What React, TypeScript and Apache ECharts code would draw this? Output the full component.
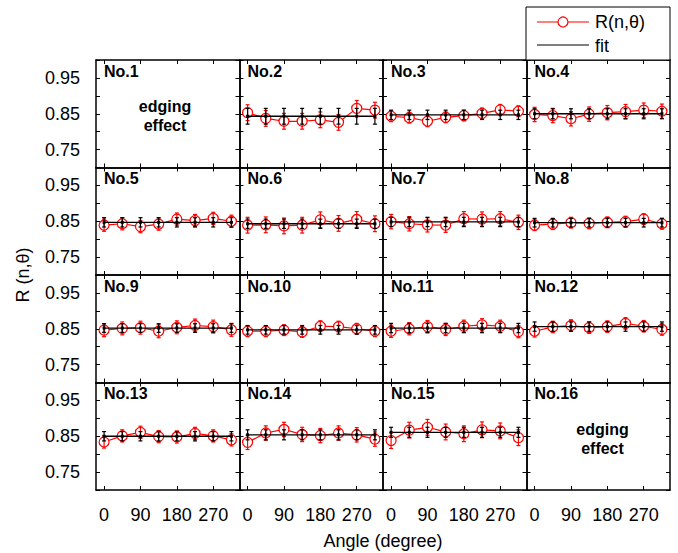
import React, { useEffect, useRef } from "react";
import * as echarts from "echarts";

const angles = [0, 45, 90, 135, 180, 225, 270, 315];
const xTicks = [0, 90, 180, 270];
const panelNames = ["No.1", "No.2", "No.3", "No.4", "No.5", "No.6", "No.7", "No.8", "No.9", "No.10", "No.11", "No.12", "No.13", "No.14", "No.15", "No.16"];

// measured R(n,θ) per panel (null = edging effect)
const R2 = [0.853, 0.837, 0.829, 0.829, 0.833, 0.826, 0.865, 0.860];
const R3 = [0.843, 0.839, 0.829, 0.840, 0.845, 0.851, 0.861, 0.857];
const R4 = [0.848, 0.845, 0.836, 0.849, 0.853, 0.856, 0.860, 0.857];
const R5 = [0.839, 0.843, 0.835, 0.842, 0.856, 0.852, 0.858, 0.850];
const R6 = [0.839, 0.840, 0.837, 0.839, 0.854, 0.844, 0.855, 0.843];
const R7 = [0.849, 0.843, 0.840, 0.839, 0.857, 0.856, 0.857, 0.847];
const R8 = [0.839, 0.842, 0.846, 0.844, 0.847, 0.849, 0.856, 0.843];
const R9 = [0.846, 0.851, 0.853, 0.843, 0.854, 0.859, 0.856, 0.847];
const R10 = [0.843, 0.843, 0.846, 0.841, 0.857, 0.856, 0.850, 0.843];
const R11 = [0.843, 0.850, 0.856, 0.848, 0.857, 0.861, 0.857, 0.842];
const R12 = [0.843, 0.855, 0.859, 0.853, 0.856, 0.865, 0.857, 0.848];
const R13 = [0.834, 0.851, 0.861, 0.849, 0.848, 0.858, 0.851, 0.840];
const R14 = [0.833, 0.859, 0.869, 0.855, 0.852, 0.859, 0.854, 0.842];
const R15 = [0.838, 0.867, 0.875, 0.862, 0.857, 0.868, 0.865, 0.846];
const rValues: (number[] | null)[] = [null, R2, R3, R4, R5, R6, R7, R8, R9, R10, R11, R12, R13, R14, R15, null];

const fitValues = [0, 0.843, 0.847, 0.850, 0.847, 0.843, 0.848, 0.846, 0.852, 0.847, 0.852, 0.856, 0.850, 0.854, 0.861, 0];
const redErr = [0, 0.022, 0.015, 0.02, 0.017, 0.022, 0.02, 0.015, 0.018, 0.015, 0.017, 0.016, 0.017, 0.02, 0.022, 0];
const fitErr = [0, 0.022, 0.013, 0.014, 0.013, 0.013, 0.013, 0.012, 0.012, 0.012, 0.013, 0.013, 0.013, 0.014, 0.014, 0];

const yTickLabels = ["0.75", "0.85", "0.95"];

const FONT = "Liberation Sans, Arial, sans-serif";
const GL = 96, GT = 60, GW = 143.5, GH = 107.5;

function errRender(color: string, cap: number, dot: boolean) {
  return (params: any, api: any) => {
    const x = api.value(0);
    const lo = api.value(1);
    const hi = api.value(2);
    const mid = api.value(3);
    const p1 = api.coord([x, lo]);
    const p2 = api.coord([x, hi]);
    const pm = api.coord([x, mid]);
    const style = { stroke: color, lineWidth: 1.2 };
    const children: any[] = [
      { type: "line", shape: { x1: p1[0], y1: p1[1], x2: p2[0], y2: p2[1] }, style },
      { type: "line", shape: { x1: p1[0] - cap, y1: p1[1], x2: p1[0] + cap, y2: p1[1] }, style },
      { type: "line", shape: { x1: p2[0] - cap, y1: p2[1], x2: p2[0] + cap, y2: p2[1] }, style },
    ];
    if (dot) {
      children.push({ type: "rect", shape: { x: pm[0] - 1.5, y: pm[1] - 1.5, width: 3, height: 3 }, style: { fill: color } });
    }
    return { type: "group", children };
  };
}

export default function App() {
  const ref = useRef<HTMLDivElement>(null);
  useEffect(() => {
    if (!ref.current) return;
    const chart = echarts.init(ref.current, null, { renderer: "svg" });
    const grid: any[] = [];
    const xAxis: any[] = [];
    const yAxis: any[] = [];
    const series: any[] = [];
    const graphic: any[] = [];
    const axisLine = { show: true, onZero: false, lineStyle: { color: "#000", width: 1.5 } };
    for (let g = 0; g < 16; g++) {
      const r = Math.floor(g / 4);
      const c = g % 4;
      const left = GL + c * GW;
      const top = GT + r * GH;
      grid.push({ left, top, width: GW, height: GH });
      xAxis.push({
        type: "value", gridIndex: g, position: "bottom", min: -20, max: 335,
        axisLine, splitLine: { show: false },
        axisTick: { show: true, inside: true, length: 4, customValues: xTicks, lineStyle: { color: "#000" } },
        axisLabel: { show: r === 3, customValues: xTicks, fontSize: 18, fontFamily: FONT, color: "#000", margin: 16 },
      });
      xAxis.push({
        type: "value", gridIndex: g, position: "top", min: -20, max: 335,
        axisLine, splitLine: { show: false },
        axisTick: { show: true, inside: true, length: 4, customValues: xTicks, lineStyle: { color: "#000" } },
        axisLabel: { show: false },
      });
      yAxis.push({
        type: "value", gridIndex: g, position: "left", min: 0.7, max: 1.0, interval: 0.05,
        axisLine, splitLine: { show: false },
        axisTick: { show: true, inside: true, length: 4, lineStyle: { color: "#000" } },
        axisLabel: {
          show: c === 0, fontSize: 18, fontFamily: FONT, color: "#000", margin: 16,
          formatter: (v: number) => {
            const s = v.toFixed(2);
            return yTickLabels.indexOf(s) >= 0 ? s : "";
          },
        },
      });
      yAxis.push({
        type: "value", gridIndex: g, position: "right", min: 0.7, max: 1.0, interval: 0.05,
        axisLine, splitLine: { show: false },
        axisTick: { show: true, inside: true, length: 4, lineStyle: { color: "#000" } },
        axisLabel: { show: false },
      });
      graphic.push({
        type: "text", left: left + 8, top: top + 3,
        style: { text: panelNames[g], font: `bold 16px ${FONT}`, fill: "#000" },
      });
      const vals = rValues[g];
      if (!vals) {
        const cx = c === 0 ? left + 69 : left + 76;
        graphic.push({
          type: "text", x: cx, y: top + 56,
          style: { text: "edging\neffect", font: `bold 16px ${FONT}`, fill: "#000", align: "center", verticalAlign: "middle", lineHeight: 19 },
        });
        continue;
      }
      const xi = 2 * g, yi = 2 * g;
      series.push({
        type: "line", xAxisIndex: xi, yAxisIndex: yi, z: 2,
        data: angles.map((a, i) => [a, vals[i]]),
        symbol: "circle", symbolSize: 10,
        itemStyle: { color: "#fff", borderColor: "#ff0000", borderWidth: 1.2 },
        lineStyle: { color: "#ff0000", width: 1.2 },
        silent: true,
      });
      series.push({
        type: "line", xAxisIndex: xi, yAxisIndex: yi, z: 3,
        data: [[angles[0], fitValues[g]], [angles[angles.length - 1], fitValues[g]]],
        symbol: "none",
        lineStyle: { color: "#000", width: 1.3 },
        silent: true,
      });
      series.push({
        type: "custom", xAxisIndex: xi, yAxisIndex: yi, z: 4,
        renderItem: errRender("#ff0000", 2, false),
        encode: { x: 0, y: [1, 2] },
        data: angles.map((a, i) => [a, vals[i] - redErr[g], vals[i] + redErr[g], vals[i]]),
        silent: true,
      });
      series.push({
        type: "custom", xAxisIndex: xi, yAxisIndex: yi, z: 5,
        renderItem: errRender("#000", 2, true),
        encode: { x: 0, y: [1, 2] },
        data: angles.map((a) => [a, fitValues[g] - fitErr[g], fitValues[g] + fitErr[g], fitValues[g]]),
        silent: true,
      });
    }
    // legend box
    graphic.push({
      type: "rect", shape: { x: 526, y: 7, width: 144, height: 53 },
      style: { fill: "#fff", stroke: "#000", lineWidth: 1 }, z: 10,
    });
    graphic.push({ type: "line", shape: { x1: 537, y1: 22, x2: 589, y2: 22 }, style: { stroke: "#ff0000", lineWidth: 1.2 }, z: 11 });
    graphic.push({ type: "circle", shape: { cx: 563, cy: 22, r: 5 }, style: { fill: "#fff", stroke: "#ff0000", lineWidth: 1.2 }, z: 12 });
    graphic.push({ type: "text", x: 595, y: 22, style: { text: "R(n,θ)", font: `18px ${FONT}`, fill: "#000", verticalAlign: "middle" }, z: 12 });
    graphic.push({ type: "line", shape: { x1: 537, y1: 45, x2: 589, y2: 45 }, style: { stroke: "#000", lineWidth: 1.2 }, z: 11 });
    graphic.push({ type: "text", x: 595, y: 46, style: { text: "fit", font: `18px ${FONT}`, fill: "#000", verticalAlign: "middle" }, z: 12 });
    // axis titles
    graphic.push({
      type: "text", x: 23, y: 275, rotation: Math.PI / 2,
      style: { text: "R (n,θ)", font: `18px ${FONT}`, fill: "#000", align: "center", verticalAlign: "middle" },
    });
    graphic.push({
      type: "text", x: 383, y: 541,
      style: { text: "Angle (degree)", font: `18px ${FONT}`, fill: "#000", align: "center", verticalAlign: "middle" },
    });

    chart.setOption({
      animation: false,
      backgroundColor: "#fff",
      grid, xAxis, yAxis, series, graphic,
    });
    return () => chart.dispose();
  }, []);
  return <div ref={ref} style={{ position: "absolute", left: 0, top: 0, width: 678, height: 553 }} />;
}
